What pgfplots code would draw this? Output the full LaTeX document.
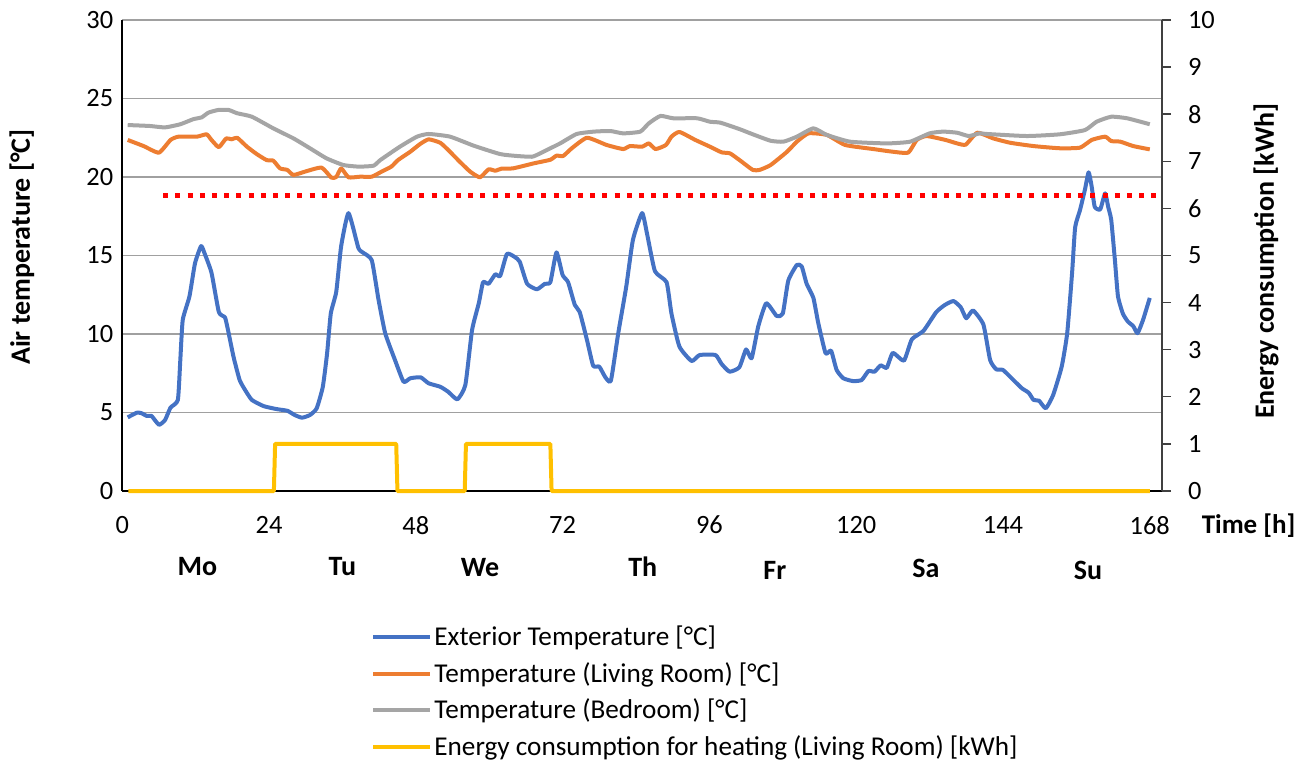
\documentclass[border=0pt]{standalone}
\usepackage{fontspec}
\setmainfont{Carlito}
\usepackage{pgfplots}
\pgfplotsset{compat=1.18}
\definecolor{cblue}{HTML}{4472C4}
\definecolor{corange}{HTML}{ED7D31}
\definecolor{cgray}{HTML}{A5A5A5}
\definecolor{cyellow}{HTML}{FFC000}
\definecolor{gridgray}{HTML}{A0A0A0}
\definecolor{axisgray}{HTML}{404040}
\newcommand{\fs}{\fontsize{13.2}{15.8}\selectfont}
\newcommand{\fl}{\fontsize{13.6}{16.3}\selectfont}
\newcommand{\fb}{\fontsize{14}{16.8}\selectfont\bfseries}
\begin{document}
\begin{tikzpicture}
\useasboundingbox (-61.1pt,-134.5pt) rectangle (593.9pt,245.5pt);
\begin{axis}[
  at={(0,0)}, anchor=south west,
  scale only axis, width=519.9pt, height=235.5pt,
  xmin=0, xmax=170, ymin=0, ymax=30,
  xtick={0,24,...,168}, ytick={0,5,...,30},
  axis x line*=bottom, axis y line*=left,
  axis line style={-, black, line width=0.7pt},
  major tick length=0pt,
  ymajorgrids, grid style={color=gridgray, line width=0.7pt},
  clip=false,
  font=\fs,
  /pgf/number format/assume math mode=true,
  tick label style={font=\fs},
  xticklabel style={yshift=-9pt},
  yticklabel style={xshift=-1pt},
  ylabel={Air temperature [°C]},
  ylabel style={font=\fb, at={(axis description cs:-0.0964,0.518)}, anchor=center},
  legend cell align=left,
  legend style={font=\fl, draw=none, fill=none, inner sep=0pt, row sep=4.9pt,
    nodes={inner sep=1pt, anchor=west},
    at={(axis description cs:0.2393,-0.281)}, anchor=north west},
  legend image code/.code={\draw[#1] (0pt,0pt) -- (28.5pt,0pt);},
  every axis plot/.append style={line join=round, line width=2pt},
]
\addplot[cblue, smooth, tension=0.3] coordinates {
(0.9,4.69)(2.4,4.99)(3.2,4.95)(4.0,4.78)(4.8,4.78)(6.0,4.22)(7.0,4.52)(7.9,5.31)
(9.1,5.80)(9.5,8.34)(9.9,10.9)(11.0,12.4)(11.9,14.5)(12.9,15.6)(13.5,15.1)(14.6,13.9)
(15.8,11.4)(16.8,11.06)(17.3,10.25)(18.2,8.55)(19.2,7.07)(20.1,6.43)(21.2,5.80)(23.1,5.41)
(25.2,5.22)(27.0,5.11)(28.2,4.84)(29.4,4.67)(30.7,4.84)(31.8,5.27)(32.8,6.64)(33.5,8.77)
(34.1,11.3)(35.0,12.7)(35.8,15.6)(37.0,17.7)(38.6,15.5)(39.3,15.2)(40.8,14.7)(41.9,12.2)
(43.0,10.05)(44.6,8.34)(46.0,6.96)(47.1,7.18)(48.8,7.24)(50.1,6.86)(52.0,6.64)(53.3,6.32)
(54.8,5.84)(56.1,6.75)(57.2,10.25)(58.3,11.96)(59.0,13.3)(59.9,13.2)(61.0,13.8)(61.8,13.7)
(62.9,15.1)(64.2,14.9)(65.0,14.6)(66.2,13.2)(67.8,12.85)(69.1,13.2)(70.0,13.3)(71.0,15.2)
(72.0,13.76)(72.9,13.3)(74.0,11.85)(74.8,11.4)(76.0,9.6)(77.0,7.98)(78.0,7.92)(79.0,7.24)
(79.9,7.03)(81.1,10.05)(82.4,13.0)(83.5,16.0)(85.0,17.7)(85.8,16.4)(87.1,14.0)(89.0,13.3)
(89.8,11.3)(91.1,9.2)(93.1,8.28)(94.4,8.66)(97.0,8.66)(98.0,8.09)(99.3,7.6)(100.9,7.88)
(102.0,9.02)(102.9,8.45)(104.0,10.5)(105.3,11.96)(107.0,11.15)(108.0,11.3)(108.9,13.4)(110.3,14.4)
(111.1,14.3)(111.9,13.2)(113.0,12.3)(113.8,10.7)(115.0,8.77)(115.9,8.94)(116.8,7.71)(117.9,7.18)
(119.5,7.0)(120.9,7.07)(122.0,7.64)(123.0,7.6)(124.0,8.0)(125.0,7.85)(126.0,8.8)(127.8,8.3)
(129.1,9.66)(131.0,10.2)(133.1,11.4)(134.5,11.85)(135.9,12.1)(137.1,11.7)(138.0,11.0)(139.1,11.5)
(140.8,10.6)(141.9,8.34)(142.9,7.75)(144.0,7.71)(145.7,7.07)(147.1,6.54)(148.2,6.26)(149.0,5.80)
(149.9,5.75)(151.0,5.27)(152.2,6.11)(153.6,7.92)(154.5,10.05)(155.3,13.9)(155.8,16.8)(156.6,17.9)
(157.4,19.2)(158.0,20.3)(158.5,19.4)(159.0,18.1)(159.9,17.94)(160.7,18.96)(161.2,18.1)(161.7,17.26)
(162.3,14.7)(162.8,12.4)(163.6,11.3)(164.4,10.8)(165.3,10.5)(166.0,10.05)(166.9,10.9)(168.0,12.3)
};
\addlegendentry{Exterior Temperature [°C]}
\addplot[corange, smooth, tension=0.3] coordinates {
(0.9,22.36)(3.5,21.97)(6.0,21.55)(7.9,22.36)(9.2,22.57)(12.2,22.57)(13.8,22.72)(14.6,22.36)
(15.8,21.9)(17.0,22.46)(17.9,22.4)(18.8,22.5)(20.4,21.93)(22.0,21.46)(23.6,21.08)(24.7,21.04)
(25.8,20.55)(27.0,20.45)(28.0,20.13)(30.2,20.38)(32.6,20.6)(34.2,19.96)(35.0,20.0)(35.8,20.55)
(37.0,19.98)(38.9,20.02)(40.8,20.02)(42.4,20.34)(44.0,20.66)(45.1,21.08)(47.1,21.61)(48.7,22.1)
(50.1,22.4)(52.0,22.18)(53.3,21.72)(55.2,20.97)(56.9,20.34)(58.5,19.98)(59.9,20.49)(61.0,20.4)
(62.0,20.53)(63.9,20.55)(67.3,20.87)(70.0,21.1)(71.0,21.36)(72.1,21.34)(73.5,21.83)(76.0,22.5)
(79.2,22.04)(81.9,21.78)(83.0,21.97)(85.0,21.93)(86.1,22.14)(87.2,21.78)(88.9,22.04)(89.8,22.57)
(91.1,22.87)(93.7,22.36)(96.1,21.93)(98.0,21.57)(99.4,21.5)(101.3,20.97)(103.1,20.45)(104.2,20.45)
(106.0,20.76)(108.7,21.61)(110.3,22.25)(112.2,22.78)(115.2,22.68)(118.2,22.04)(122.8,21.78)(126.0,21.61)
(128.5,21.55)(129.9,22.36)(131.5,22.61)(134.6,22.36)(136.5,22.14)(137.9,22.06)(139.8,22.82)(142.4,22.46)
(145.2,22.18)(149.0,21.97)(153.3,21.83)(156.6,21.87)(158.5,22.36)(160.7,22.57)(161.7,22.29)(163.2,22.25)
(165.3,21.97)(168.0,21.76)
};
\addlegendentry{Temperature (Living Room) [°C]}
\addplot[cgray, smooth, tension=0.3] coordinates {
(0.9,23.31)(4.5,23.25)(7.0,23.16)(9.5,23.36)(11.6,23.68)(13.0,23.8)(14.1,24.1)(15.7,24.27)
(17.4,24.27)(18.8,24.06)(21.2,23.84)(24.7,23.1)(28.0,22.46)(30.7,21.83)(33.4,21.19)(36.2,20.76)
(38.7,20.66)(41.1,20.72)(42.2,21.08)(45.4,21.93)(48.2,22.57)(50.1,22.74)(53.6,22.57)(57.5,21.99)
(61.8,21.46)(64.5,21.34)(67.0,21.29)(68.3,21.5)(70.0,21.83)(71.6,22.14)(74.3,22.74)(77.1,22.89)
(79.8,22.93)(81.9,22.78)(84.7,22.89)(86.1,23.42)(88.0,23.89)(90.1,23.74)(94.0,23.74)(96.1,23.52)
(97.8,23.46)(101.0,23.04)(103.1,22.72)(106.0,22.31)(108.1,22.25)(110.3,22.57)(113.0,23.1)(115.2,22.68)
(119.0,22.25)(125.0,22.14)(128.8,22.25)(132.0,22.78)(134.2,22.89)(136.5,22.82)(138.4,22.61)(140.2,22.78)
(141.4,22.74)(147.9,22.61)(153.3,22.72)(157.4,22.99)(159.3,23.52)(161.7,23.84)(164.3,23.74)(168.0,23.36)
};
\addlegendentry{Temperature (Bedroom) [°C]}
\addlegendimage{cyellow, line width=2pt}
\addlegendentry{Energy consumption for heating (Living Room) [kWh]}
\addplot[red, line width=2.5pt, line cap=butt, dash pattern=on 2.5pt off 3.6pt, forget plot] coordinates {(6.7,18.8)(170,18.8)};
\node[font=\fb] at (axis cs:12.3,-4.84) {Mo};
\node[font=\fb] at (axis cs:36.0,-4.78) {Tu};
\node[font=\fb] at (axis cs:58.5,-4.9) {We};
\node[font=\fb] at (axis cs:85.1,-4.84) {Th};
\node[font=\fb] at (axis cs:106.7,-5.03) {Fr};
\node[font=\fb] at (axis cs:131.4,-4.9) {Sa};
\node[font=\fb] at (axis cs:157.9,-5.03) {Su};
\node[font=\fontsize{13.5}{16}\selectfont\bfseries] at ([xshift=43.3pt,yshift=-17.5pt]axis description cs:1,0) {Time [h]};
\end{axis}
\begin{axis}[
  at={(0,0)}, anchor=south west,
  scale only axis, width=519.9pt, height=235.5pt,
  xmin=0, xmax=170, ymin=0, ymax=10,
  ytick={0,1,...,10},
  axis y line*=right, axis x line=none,
  axis line style={-, axisgray, line width=0.7pt},
  tick style={axisgray, line width=0.7pt},
  major tick length=4.5pt, tick align=outside,
  clip=false,
  font=\fs,
  /pgf/number format/assume math mode=true,
  tick label style={font=\fs},
  yticklabel style={xshift=5pt},
  ylabel={Energy consumption [kWh]},
  ylabel style={font=\fb, at={(axis description cs:1.1,0.488)}, anchor=center, rotate=0},
]
\addplot[cyellow, line width=2pt, line join=round] coordinates {
(1,0)(24.8,0)(25.0,1)(44.8,1)(45.0,0)(56.0,0)(56.2,1)(70.0,1)(70.2,0)(168,0)
};
\end{axis}
\end{tikzpicture}
\end{document}
